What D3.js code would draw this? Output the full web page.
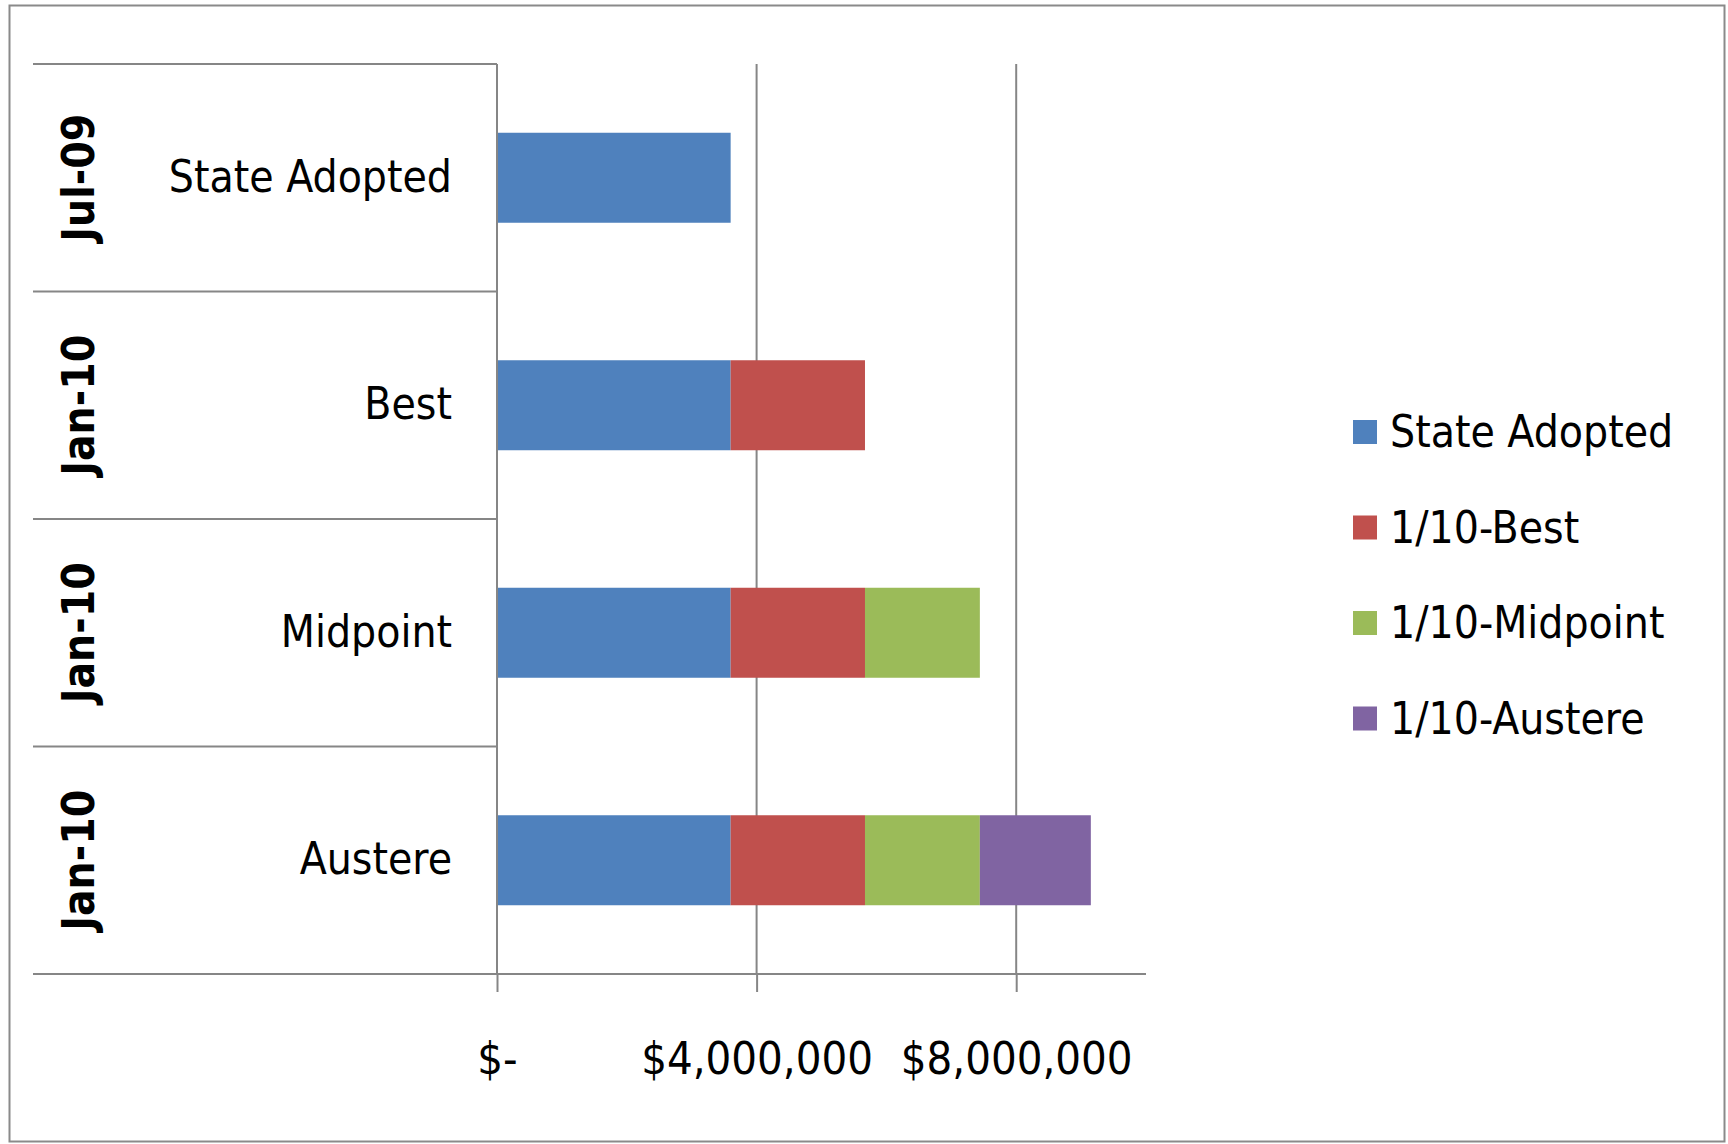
<!DOCTYPE html>
<html>
<head>
<meta charset="utf-8">
<script src="https://cdn.jsdelivr.net/npm/d3@7"></script>
<style>
    body { margin: 0; background: #fff; }
    text { font-family: "DejaVu Sans Condensed", "Liberation Sans Narrow", sans-serif; fill: #000; }
</style>
</head>
<body>
<div id="chart"></div>
<script>
// categories, first = top row
const categories = ["State Adopted", "Best", "Midpoint", "Austere"];
const periods = ["Jul-09", "Jan-10", "Jan-10", "Jan-10"];
const seriesNames = ["State Adopted", "1/10-Best", "1/10-Midpoint", "1/10-Austere"];

// series values, one per category
const stateAdopted = [3600000, 3600000, 3600000, 3600000];
const best = [0, 2070000, 2070000, 2070000];
const midpoint = [0, 0, 1770000, 1770000];
const austere = [0, 0, 0, 1710000];

const tickValues = [0, 4000000, 8000000];
const tickLabels = ["$-", "$4,000,000", "$8,000,000"];

const colors = ["#4F81BD", "#C0504D", "#9BBB59", "#8064A2"];

const width = 1728, height = 1144;
const plotLeft = 497, plotRight = 1146, plotTop = 64, plotBottom = 974;
const labelLeft = 33;
const lineColor = "#868686";

let rows = categories.map((c, i) => ({
    name: c,
    period: periods[i],
    s0: stateAdopted[i],
    s1: best[i],
    s2: midpoint[i],
    s3: austere[i]
}));

let keys = ["s0", "s1", "s2", "s3"];
let stacked = d3.stack().keys(keys)(rows);

let x = d3.scaleLinear()
    .domain([0, 10000000])
    .range([plotLeft, plotRight]);

let y = d3.scaleBand()
    .domain(categories)
    .range([plotTop, plotBottom])
    .paddingInner(0)
    .paddingOuter(0);

let barPad = (y.bandwidth() - 90) / 2;

let color = d3.scaleOrdinal()
    .domain(keys)
    .range(colors);

let svg = d3.select("#chart")
    .append("svg")
    .attr("width", width)
    .attr("height", height);

// outer frame
svg.append("rect")
    .attr("x", 9.5)
    .attr("y", 5.5)
    .attr("width", width - 13)
    .attr("height", height - 8)
    .style("fill", "#fff")
    .style("stroke", "#8a8a8a")
    .style("stroke-width", "2px");

// gridlines
svg.selectAll(".gridLines")
    .data(tickValues.slice(1))
    .join("line")
    .classed("gridLines", true)
    .attr("x1", d => x(d))
    .attr("x2", d => x(d))
    .attr("y1", plotTop)
    .attr("y2", plotBottom)
    .style("stroke", lineColor)
    .style("stroke-width", "2px");

// bars
svg.selectAll(".series")
    .data(stacked)
    .join("g")
    .classed("series", true)
    .style("fill", d => color(d.key))
    .selectAll("rect")
    .data(d => d.filter(p => p[1] > p[0]))
    .join("rect")
    .attr("x", d => x(d[0]))
    .attr("y", d => y(d.data.name) + barPad)
    .attr("width", d => x(d[1]) - x(d[0]))
    .attr("height", 90);

// category separators (top of each band) in the label area
svg.selectAll(".sepLines")
    .data(categories)
    .join("line")
    .classed("sepLines", true)
    .attr("x1", labelLeft)
    .attr("x2", plotLeft)
    .attr("y1", d => y(d))
    .attr("y2", d => y(d))
    .style("stroke", lineColor)
    .style("stroke-width", "2px");

// bottom axis with ticks
let xAxis = d3.axisBottom(x)
    .tickValues(tickValues)
    .tickSize(18)
    .tickFormat((d, i) => tickLabels[i]);

let axisG = svg.append("g")
    .attr("transform", `translate(0,${plotBottom})`)
    .call(xAxis);

axisG.select(".domain").remove();
axisG.selectAll(".tick line")
    .style("stroke", lineColor)
    .style("stroke-width", "2px");
axisG.selectAll(".tick text")
    .attr("y", 100)
    .attr("dy", 0)
    .style("font-size", "45px")
    .style("font-family", "'DejaVu Sans Condensed', sans-serif")
    .style("fill", "#000");

svg.append("line")
    .attr("x1", labelLeft)
    .attr("x2", plotRight)
    .attr("y1", plotBottom)
    .attr("y2", plotBottom)
    .style("stroke", lineColor)
    .style("stroke-width", "2px");

// vertical axis
svg.append("line")
    .attr("x1", plotLeft)
    .attr("x2", plotLeft)
    .attr("y1", plotTop)
    .attr("y2", plotBottom)
    .style("stroke", lineColor)
    .style("stroke-width", "2px");

// category labels
svg.selectAll(".catText")
    .data(categories)
    .join("text")
    .classed("catText", true)
    .attr("x", 452)
    .attr("y", d => y(d) + y.bandwidth() / 2 + 14)
    .attr("text-anchor", "end")
    .style("font-size", "44px")
    .text(d => d);

// period labels, rotated
svg.selectAll(".periodText")
    .data(rows)
    .join("text")
    .classed("periodText", true)
    .attr("transform", d => `translate(94,${y(d.name) + y.bandwidth() / 2}) rotate(-90)`)
    .attr("text-anchor", "middle")
    .style("font-size", "44px")
    .style("font-weight", "bold")
    .text(d => d.period);

// legend
let legend = svg.selectAll(".legendItem")
    .data(seriesNames)
    .join("g")
    .classed("legendItem", true)
    .attr("transform", (d, i) => `translate(1353,${432 + i * 95.5})`);

legend.append("rect")
    .attr("x", 0)
    .attr("y", -12)
    .attr("width", 24)
    .attr("height", 24)
    .style("fill", (d, i) => colors[i]);

legend.append("text")
    .attr("x", 37)
    .attr("y", 15)
    .style("font-size", "44px")
    .text(d => d);
</script>
</body>
</html>
